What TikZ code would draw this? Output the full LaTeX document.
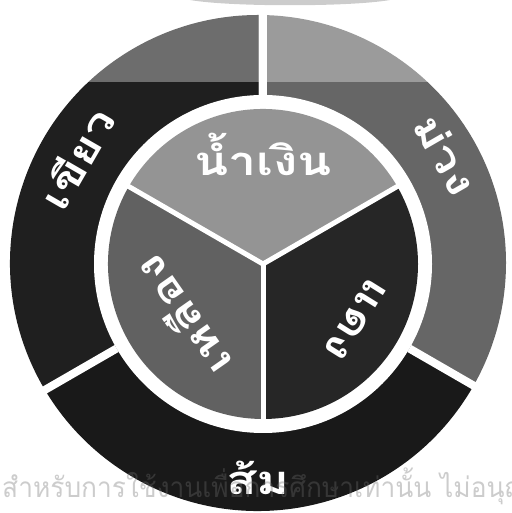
\documentclass[tikz,border=0pt]{standalone}
\usepackage{fontspec}
\newfontfamily\thaifont[Script=Thai, FakeStretch=0.94]{Loma}
\newfontfamily\namefont[Script=Thai, FakeStretch=1.25]{Loma}
\usetikzlibrary{positioning}

\tikzset{
  colorname/.style={font=\namefont\bfseries\fontsize{40}{40}\selectfont,
    text=white, inner sep=0pt},
  ringgap/.style={white, line width=8pt},
  discgap/.style={white, line width=5pt},
}

\begin{document}
\begin{tikzpicture}[x=1pt, y=1pt]
  \def\ro{248}  % outside of the ring
  \def\rw{169}  % white gap round the disc
  \def\rd{155}  % disc
  \useasboundingbox (0,0) rectangle (511,513);
  \coordinate (oc) at (258,250);
  \coordinate (ic) at (263,249);

  % outer ring: mixed colours ----------------------------------------------
  \fill[black!60] (oc) -- ([shift={(90:\ro)}]oc)
    arc[start angle=90, end angle=-30, radius=\ro] -- cycle;
  \fill[black!90] (oc) -- ([shift={(-30:\ro)}]oc)
    arc[start angle=-30, end angle=-150, radius=\ro] -- cycle;
  \fill[black!88] (oc) -- ([shift={(210:\ro)}]oc)
    arc[start angle=210, end angle=90, radius=\ro] -- cycle;
  \fill[white] (ic) circle[radius=\rw];

  % inner disc: primary colours --------------------------------------------
  \fill[black!42] (ic) -- ([shift={(30:\rd)}]ic)
    arc[start angle=30, end angle=150, radius=\rd] -- cycle;
  \fill[black!62] (ic) -- ([shift={(150:\rd)}]ic)
    arc[start angle=150, end angle=270, radius=\rd] -- cycle;
  \fill[black!85] (ic) -- ([shift={(270:\rd)}]ic)
    arc[start angle=270, end angle=390, radius=\rd] -- cycle;

  % white gaps -------------------------------------------------------------
  \foreach \a in {90,-30,210}
    \draw[ringgap] ([shift={(\a:\rw)}]ic) -- ([shift={(\a:\ro+12)}]ic);
  \foreach \a in {30,150,270}
    \draw[discgap] (ic) -- ([shift={(\a:\rd+2)}]ic);

  % faded top of the scan --------------------------------------------------
  \fill[white, opacity=0.35] (0,431) rectangle (511,513);
  \fill[black!20] (190,513) .. controls (230,506) and (350,506) .. (390,513) -- cycle;

  % names ------------------------------------------------------------------
  \node[colorname, rotate=60] (green) at ([shift={(150:210)}]oc) {เขียว};
  \node[colorname, rotate=-60] (purple) at ([shift={(30:217)}]oc) {ม่วง};
  \node[colorname, anchor=base] (orange) at ([shift={(270:232)}]oc) {ส้ม};
  \node[colorname] (blue) at ([shift={(90:110)}]ic) {น้ำเงิน};
  \node[colorname, rotate=125] (yellow) at ([shift={(213:97)}]ic) {เหลือง};
  \node[colorname, rotate=-122] (red) at ([shift={(-31:108)}]ic) {แดง};

  % watermark --------------------------------------------------------------
  \node[font=\thaifont\fontsize{28}{28}\selectfont, text=black!57,
        opacity=0.35, anchor=base west, inner sep=0pt] (mark) at (2,16)
    {สำหรับการใช้งานเพื่อการศึกษาเท่านั้น ไม่อนุญาต};
\end{tikzpicture}
\end{document}
